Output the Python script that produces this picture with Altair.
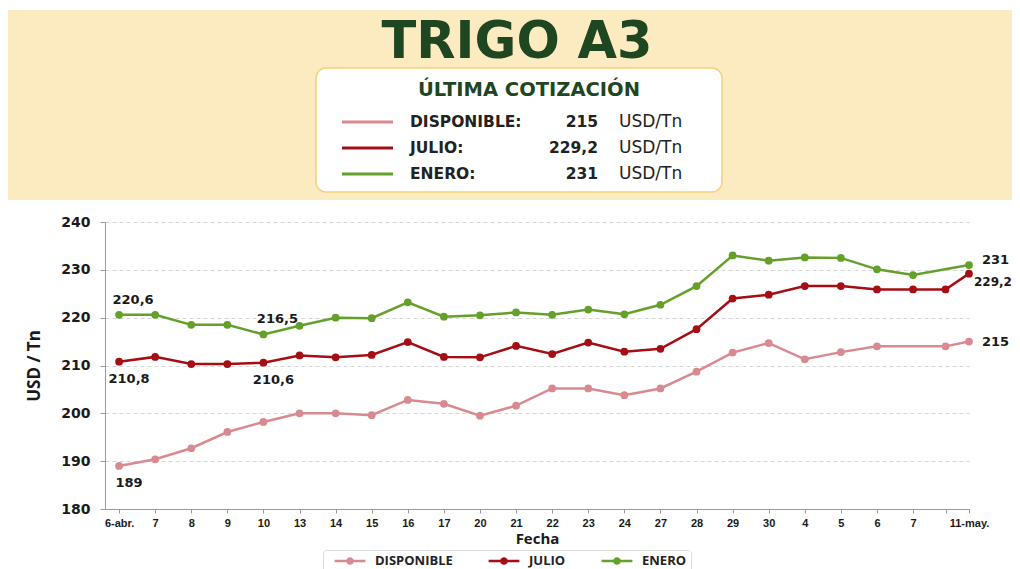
import altair as alt
import pandas as pd

# ---------------- data ----------------
x_labels = ["6-abr.", "7", "8", "9", "10", "13", "14", "15", "16", "17", "20", "21",
            "22", "23", "24", "27", "28", "29", "30", "4", "5", "6", "7", "", "11-may."]
x_pos = [0, 1, 2, 3, 4, 5, 6, 7, 8, 9, 10, 11, 12, 13, 14, 15, 16, 17, 18, 19, 20,
         21, 22, 22.9, 23.55]

disponible = [189, 190.4, 192.7, 196.1, 198.2, 200.0, 200.0, 199.6, 202.8, 202.0, 199.5,
              201.6, 205.2, 205.2, 203.8, 205.2, 208.7, 212.7, 214.7, 211.3, 212.8, 214.0,
              None, 214.0, 215]
julio = [210.8, 211.8, 210.3, 210.3, 210.6, 212.1, 211.7, 212.2, 214.9, 211.8, 211.7,
         214.1, 212.4, 214.8, 212.9, 213.5, 217.6, 224.0, 224.8, 226.6, 226.6, 225.9,
         225.9, 225.9, 229.2]
enero = [220.6, 220.6, 218.5, 218.5, 216.5, 218.3, 220.0, 219.9, 223.2, 220.2, 220.5,
         221.1, 220.6, 221.7, 220.7, 222.7, 226.6, 233.0, 231.9, 232.6, 232.5, 230.1,
         228.9, None, 231]

series_names = ["DISPONIBLE", "JULIO", "ENERO"]
series_colors = ["#D98A91", "#A50E14", "#64A02A"]
series_values = [disponible, julio, enero]
label_positions = [
    {0: "below", 24: "right"},
    {0: "below", 4: "below", 24: "right_down"},
    {0: "above", 4: "above", 24: "right_up"},
]

rows = []
for name, vals, labs in zip(series_names, series_values, label_positions):
    for i, v in enumerate(vals):
        if v is None:
            continue
        rows.append({"serie": name, "x": x_pos[i], "value": v, "lab": labs.get(i, "")})
df = pd.DataFrame(rows)


def fmt(v):
    return str(v).replace(".", ",")


# ---------------- scales / encodings ----------------
js_labels = "[" + ",".join("'" + s + "'" for s in x_labels) + "]"
js_pos = "[" + ",".join(str(p) for p in x_pos) + "]"

x_enc = alt.X(
    "x:Q",
    scale=alt.Scale(domain=[-0.39, 23.55], nice=False, zero=False),
    axis=alt.Axis(
        values=x_pos, labelExpr=js_labels + "[indexof(" + js_pos + ", datum.value)]",
        title="Fecha", grid=False, labelAngle=0, labelOverlap=False, labelFlush=False,
        labelFont="Liberation Sans", labelFontWeight="bold", labelFontSize=11,
        labelColor="#1a1a1a", labelPadding=4, tickSize=4, tickColor="#9a9a9a",
        domainColor="#9a9a9a", titleFont="Open Sans", titleFontSize=15,
        titleFontWeight="bold", titleColor="#1a1a1a", titlePadding=3,
    ),
)
y_enc = alt.Y(
    "value:Q",
    scale=alt.Scale(domain=[180, 240], nice=False, zero=False),
    axis=alt.Axis(
        values=[180, 190, 200, 210, 220, 230, 240], title="USD / Tn", grid=True,
        gridColor="#d6d6d6", gridDash=[4, 3], labelFont="DejaVu Sans",
        labelFontWeight="bold", labelFontSize=14, labelColor="#1a1a1a", labelPadding=10,
        tickSize=5, tickColor="#9a9a9a", domainColor="#9a9a9a", titleFont="Open Sans",
        titleFontSize=17, titleFontWeight="bold", titleColor="#1a1a1a", titlePadding=17,
    ),
)
color_scale = alt.Scale(domain=series_names, range=series_colors)

sym_path = ("M-2.2,-0.18H2.2V0.18H-2.2Z "
            "M-0.55,0A0.55,0.55 0 1,1 0.55,0A0.55,0.55 0 1,1 -0.55,0Z")
legend = alt.Legend(
    title=None, orient="none", legendX=218, legendY=328, direction="horizontal",
    symbolType=sym_path, symbolSize=196, symbolStrokeWidth=0, symbolOpacity=1,
    symbolOffset=16, labelOffset=18, labelFont="Open Sans", labelFontWeight="bold",
    labelFontSize=13, labelColor="#222222", columnPadding=28, padding=4,
    strokeColor="#dddddd", fillColor="white", cornerRadius=3,
)
color_enc = alt.Color("serie:N", scale=color_scale, legend=legend)

base = alt.Chart(df)
points = base.mark_point(filled=True, size=60, opacity=1).encode(
    x=x_enc, y=y_enc, color=color_enc
)
lines = base.mark_line(strokeWidth=2.5).encode(
    x=x_enc, y=y_enc, color=color_enc
)

label_style = dict(font="DejaVu Sans", fontWeight="bold", color="#1a1a1a")
label_specs = {
    "above": dict(align="center", dx=14, dy=-15, fontSize=13),
    "below": dict(align="center", dx=10, dy=17, fontSize=13),
    "right": dict(align="left", dx=13, dy=0, fontSize=13),
    "right_up": dict(align="left", dx=13, dy=-5, fontSize=13),
    "right_down": dict(align="left", dx=5, dy=8, fontSize=12),
}
text_layers = []
for key, spec in label_specs.items():
    text_layers.append(
        base.transform_filter(alt.datum.lab == key)
        .transform_calculate(txt="replace(toString(datum.value), '.', ',')")
        .mark_text(baseline="middle", **spec, **label_style)
        .encode(x=x_enc, y=y_enc, text="txt:N")
    )

# ---------------- header ----------------
one = pd.DataFrame({"k": [0]})
hdr = alt.Chart(one)
header = [
    hdr.mark_rect(color="#FCEBC1").encode(
        x=alt.value(-97), x2=alt.value(907), y=alt.value(-212), y2=alt.value(-22)),
    hdr.mark_text(text="TRIGO A3", font="DejaVu Sans", fontWeight="bold", fontSize=51,
                  color="#1E4620", align="center", baseline="alphabetic").encode(
        x=alt.value(412), y=alt.value(-164)),
    hdr.mark_rect(fill="white", stroke="#F2D27A", strokeWidth=1.5, cornerRadius=10).encode(
        x=alt.value(211), x2=alt.value(617), y=alt.value(-154), y2=alt.value(-30)),
    hdr.mark_text(text="ÚLTIMA COTIZACIÓN", font="DejaVu Sans", fontWeight="bold",
                  fontSize=19.5, color="#1E4620", align="center", baseline="middle").encode(
        x=alt.value(424), y=alt.value(-132)),
]
row_y = [-100, -74, -48]
for name, col, vals, yr in zip(series_names, series_colors, series_values, row_y):
    header += [
        hdr.mark_rule(color=col, strokeWidth=3).encode(
            x=alt.value(237), x2=alt.value(288), y=alt.value(yr)),
        hdr.mark_text(text=name + ":", font="DejaVu Sans", fontWeight="bold", fontSize=15.5,
                      color="#222222", align="left", baseline="middle").encode(
            x=alt.value(305), y=alt.value(yr)),
        hdr.mark_text(text=fmt(vals[-1]), font="DejaVu Sans", fontWeight="bold",
                      fontSize=15.5, color="#222222", align="right", baseline="middle").encode(
            x=alt.value(493), y=alt.value(yr)),
        hdr.mark_text(text="USD/Tn", font="DejaVu Sans", fontSize=17, color="#222222",
                      align="left", baseline="middle").encode(
            x=alt.value(514), y=alt.value(yr)),
    ]

chart = alt.layer(*header, lines, points, *text_layers).properties(
    width=864, height=287,
    autosize=alt.AutoSizeParams(type="none"),
    padding={"left": 97, "top": 214, "right": 43, "bottom": 70},
    background="white",
).configure_view(stroke=None)

chart.save("out.html", embed_options={"renderer": "svg", "actions": False})
